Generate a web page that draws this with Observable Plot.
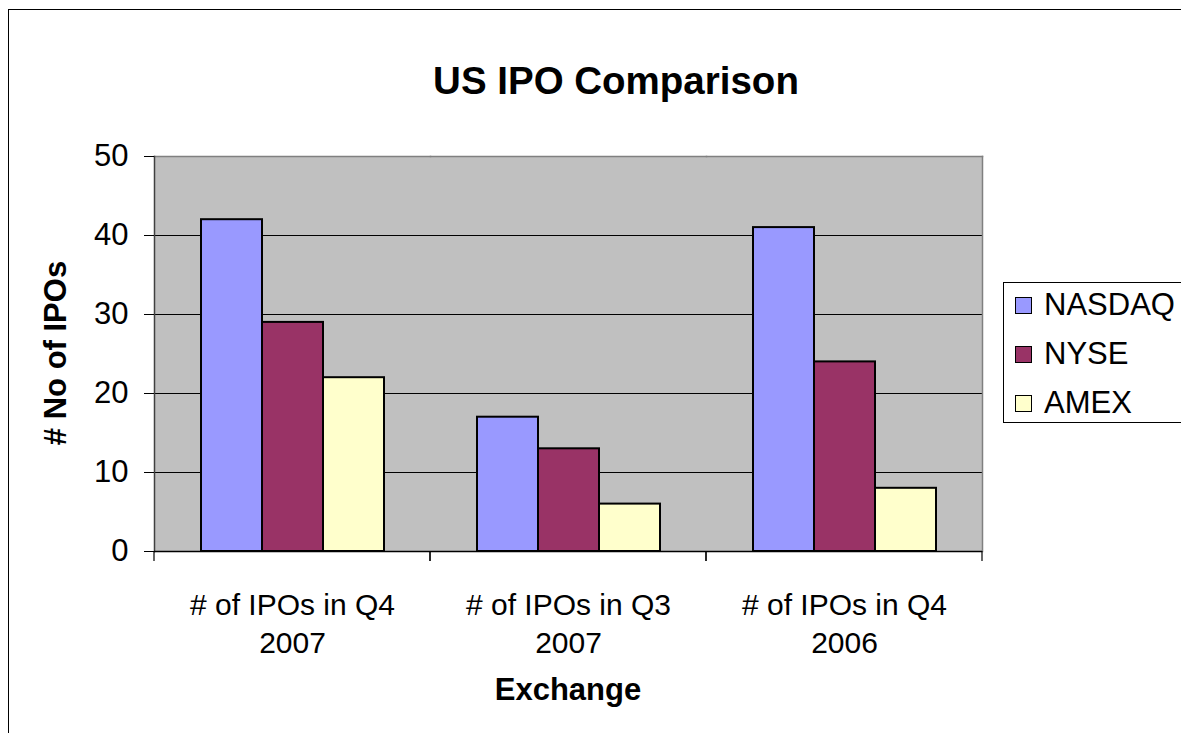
<!DOCTYPE html>
<html>
<head>
<meta charset="utf-8">
<script src="https://cdn.jsdelivr.net/npm/d3@7"></script>
<script src="https://cdn.jsdelivr.net/npm/@observablehq/plot@0.6"></script>
<style>
html, body { margin: 0; padding: 0; background: #fff; overflow: hidden; width: 1181px; height: 733px; }
body { position: relative; font-family: "Liberation Sans", Arial, sans-serif; color: #000; }
#chart { position: absolute; left: 0; top: 0; }
#outer { position: absolute; left: 8px; top: 9px; width: 1400px; height: 900px; border: 1px solid #000; box-sizing: border-box; }
.txt { position: absolute; white-space: nowrap; line-height: 1; }
#title { left: 616px; top: 62px; transform: translateX(-50%); font-size: 38.5px; font-weight: bold; }
#ytitle { left: 55px; top: 353px; transform: translate(-50%, -50%) rotate(-90deg); font-size: 31px; font-weight: bold; }
#xtitle { left: 568px; top: 674px; transform: translateX(-50%); font-size: 31px; font-weight: bold; }
#legend { position: absolute; left: 1003px; top: 282px; width: 300px; height: 141px; border: 1px solid #000; background: #fff; box-sizing: border-box; }
.item { position: absolute; left: 11px; height: 49px; display: flex; align-items: center; font-size: 31px; }
.sw { width: 15px; height: 15px; border: 1.5px solid #000; margin-right: 12px; }
</style>
</head>
<body>
<div id="chart"></div>
<div id="outer"></div>
<div id="title" class="txt">US IPO Comparison</div>
<div id="ytitle" class="txt"># No of IPOs</div>
<div id="xtitle" class="txt">Exchange</div>
<div id="legend"></div>
<script>
// ---- data ----
const categories = ["# of IPOs in Q4 2007", "# of IPOs in Q3 2007", "# of IPOs in Q4 2006"];
const series = ["NASDAQ", "NYSE", "AMEX"];
const nasdaq = [42, 17, 41];
const nyse = [29, 13, 24];
const amex = [22, 6, 8];
const colors = ["#9999FF", "#993366", "#FFFFCC"];
const yTicks = [0, 10, 20, 30, 40, 50];

const valuesBySeries = {NASDAQ: nasdaq, NYSE: nyse, AMEX: amex};
const data = categories.flatMap((cat, i) =>
  series.map(s => ({cat, series: s, value: valuesBySeries[s][i]}))
);

// short tick marks at category boundaries (drawn in each facet at its edges)
const boundaryTicks = (index, scales, values, dims) => {
  const g = d3.create("svg:g");
  const y0 = dims.height - dims.marginBottom;
  for (const x of [dims.marginLeft, dims.width - dims.marginRight]) {
    g.append("line")
      .attr("x1", x).attr("x2", x)
      .attr("y1", y0).attr("y2", y0 + 10)
      .attr("stroke", "#000").attr("stroke-width", 1.2);
  }
  return g.node();
};

const chart = Plot.plot({
  width: 1181,
  height: 733,
  marginLeft: 154,
  marginRight: 199,
  marginTop: 156,
  marginBottom: 182,
  style: {fontFamily: "'Liberation Sans', Arial, sans-serif", fontSize: "31px", color: "#000", background: "transparent", overflow: "visible"},
  fx: {domain: categories, padding: 0, label: null},
  x: {domain: series, paddingInner: 0, paddingOuter: 0.74, axis: null},
  y: {domain: [0, 50], label: null},
  color: {domain: series, range: colors},
  marks: [
    Plot.frame({fill: "#C0C0C0", stroke: "#C0C0C0", strokeWidth: 1}),
    Plot.gridY({ticks: yTicks.slice(1, -1), stroke: "#000", strokeOpacity: 1, strokeWidth: 1}),
    Plot.frame({anchor: "top", stroke: "#808080", strokeWidth: 1.5}),
    Plot.frame({anchor: "right", stroke: "#808080", strokeWidth: 1.5, facetAnchor: "right"}),
    Plot.barY(data, {fx: "cat", x: "series", y: "value", fill: "series", stroke: "#000", strokeWidth: 2}),
    Plot.frame({anchor: "left", stroke: "#404040", strokeWidth: 1.5, facetAnchor: "left"}),
    Plot.ruleY([0], {stroke: "#000", strokeWidth: 1.5}),
    Plot.axisY({ticks: yTicks, tickSize: 10, tickPadding: 16, fontSize: 31, label: null, stroke: "#000", fill: "#000"}),
    boundaryTicks,
    Plot.axisFx({
      anchor: "bottom", tickSize: 0, tickPadding: 36, fontSize: 30, lineHeight: 1.27, label: null, fill: "#000",
      tickFormat: d => d.replace(/ (\S+)$/, "\n$1")
    })
  ]
});
document.getElementById("chart").appendChild(chart);

// legend
const legend = document.getElementById("legend");
series.forEach((s, i) => {
  const row = document.createElement("div");
  row.className = "item";
  row.style.top = (23 - 24.5 + i * 49 - 1) + "px";
  const sw = document.createElement("div");
  sw.className = "sw";
  sw.style.background = colors[i];
  const label = document.createElement("span");
  label.textContent = s;
  row.appendChild(sw);
  row.appendChild(label);
  legend.appendChild(row);
});
</script>
</body>
</html>
